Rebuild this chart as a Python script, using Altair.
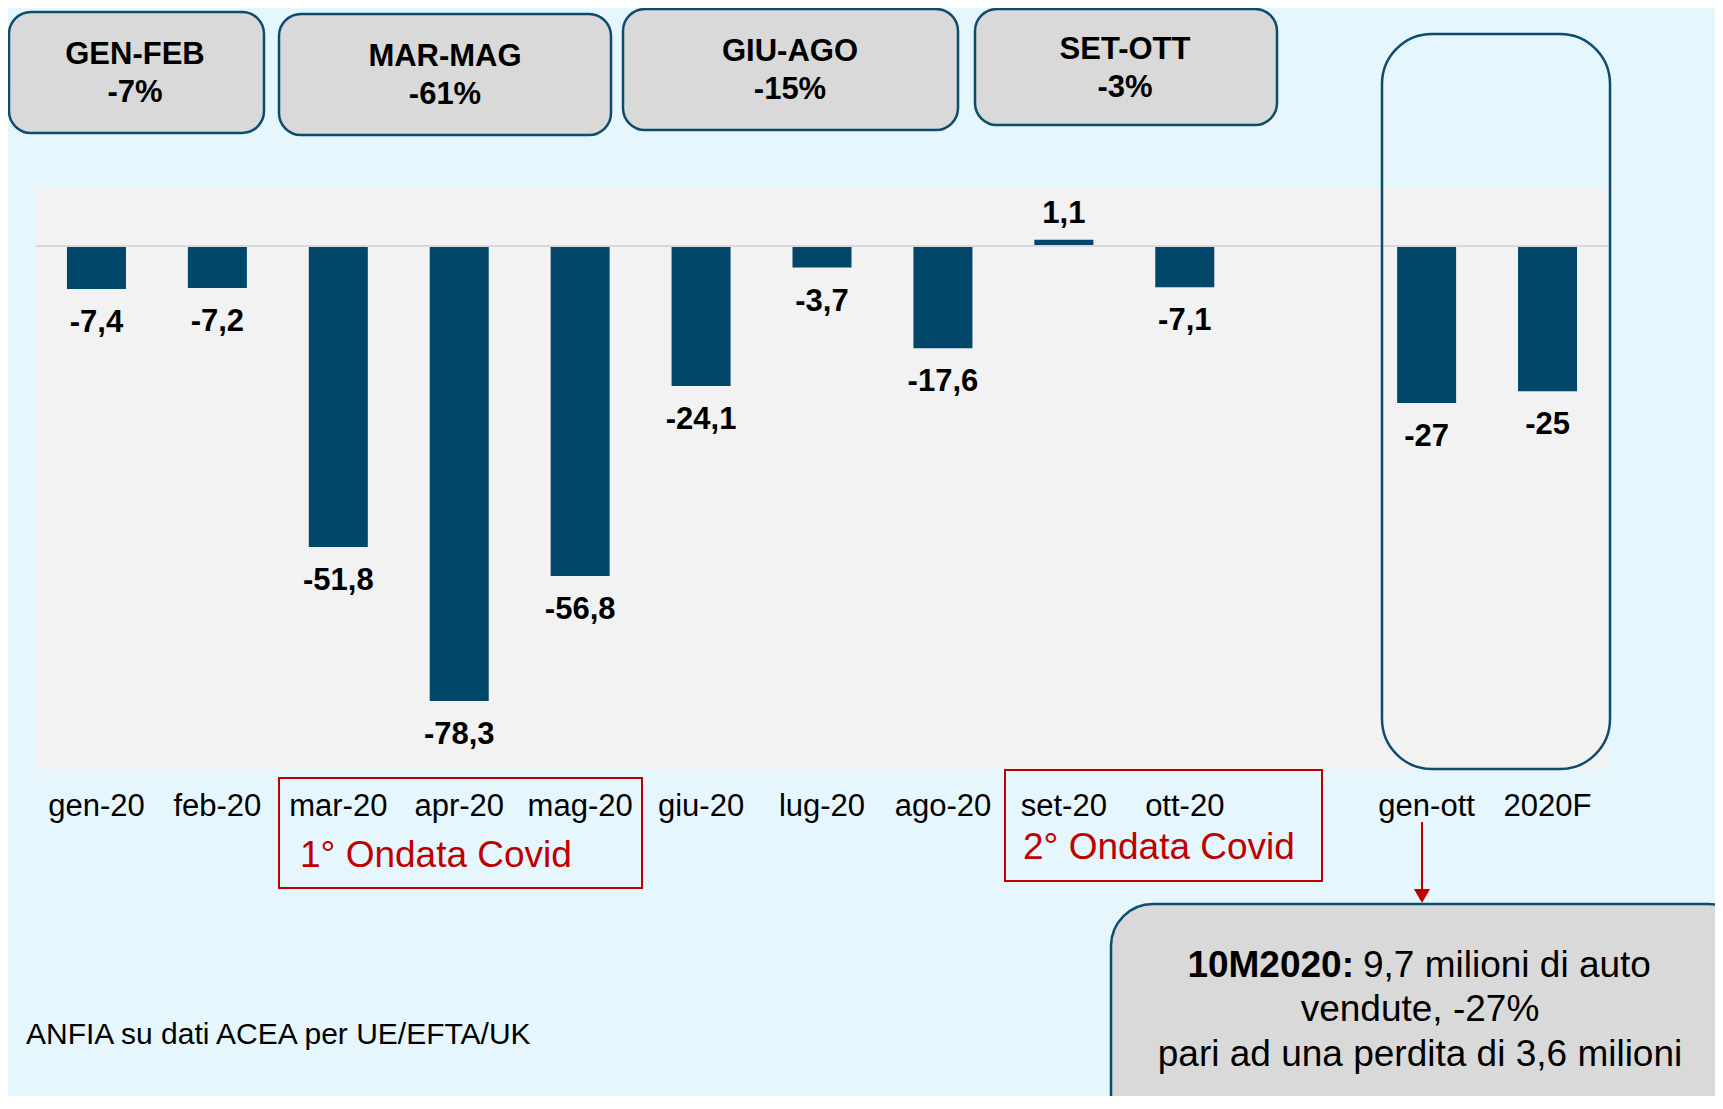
import altair as alt
import pandas as pd

# ---------------- data ----------------
months = ["gen-20", "feb-20", "mar-20", "apr-20", "mag-20", "giu-20", "lug-20",
          "ago-20", "set-20", "ott-20", "gen-ott", "2020F"]
values = [-7.4, -7.2, -51.8, -78.3, -56.8, -24.1, -3.7, -17.6, 1.1, -7.1, -27, -25]
value_labels = ["-7,4", "-7,2", "-51,8", "-78,3", "-56,8", "-24,1", "-3,7",
                "-17,6", "1,1", "-7,1", "-27", "-25"]
axis_order = months[:10] + [""] + months[10:]   # one empty slot before the totals

period_names = ["GEN-FEB", "MAR-MAG", "GIU-AGO", "SET-OTT"]
period_changes = ["-7%", "-61%", "-15%", "-3%"]
source_text = "ANFIA su dati ACEA per UE/EFTA/UK"

# ---------------- style / layout ----------------
FONT = "Liberation Sans"
BG = "#E5F6FD"
PLOT_BG = "#F2F2F2"
BAR = "#02466A"
BOX_FILL = "#D9D9D9"
BOX_STROKE = "#0E4C6E"
RED = "#C00000"

OX, OY = 36, 188          # plot origin on the page
W, H = 1572, 581          # plot area
TOTAL_W, TOTAL_H = 1707, 1088
Y_DOMAIN = [-90, 10]
N_SLOTS = len(axis_order)
STEP = W / N_SLOTS
PX_PER_UNIT = H / (Y_DOMAIN[1] - Y_DOMAIN[0])


def px2x(px):
    return (px - OX) / STEP - 0.5


def py2y(py):
    return Y_DOMAIN[1] - (py - OY) / PX_PER_UNIT


df = pd.DataFrame({
    "idx": [axis_order.index(m) for m in months],
    "mese": months,
    "variazione": values,
    "etichetta": value_labels,
    "base": [0] * len(months),
    "label_y": [py2y(807)] * len(months),
})

xs = alt.Scale(domain=[-0.5, N_SLOTS - 0.5], nice=False, zero=False, padding=0)
ys = alt.Scale(domain=Y_DOMAIN, nice=False, zero=False, padding=0)
X = lambda f: alt.X(f, scale=xs, axis=None)
Y = lambda f: alt.Y(f, scale=ys, axis=None)

bars = alt.Chart(df).mark_bar(color=BAR, size=59, orient="vertical").encode(
    x=X("idx:Q"), y=Y("variazione:Q"), y2="base:Q",
)

# category labels (x axis)
cat_labels = alt.Chart(df).mark_text(
    font=FONT, fontSize=31, color="black", baseline="middle"
).encode(x=X("idx:Q"), y=Y("label_y:Q"), text="mese:N")

zero_df = pd.DataFrame({"x0": [-0.5], "x1": [N_SLOTS - 0.5], "y0": [0]})
zero_rule = alt.Chart(zero_df).mark_rule(color="#D9D9D9", strokeWidth=2).encode(
    x=X("x0:Q"), x2="x1:Q", y=Y("y0:Q")
)

neg_labels = alt.Chart(df).transform_filter("datum.variazione < 0").mark_text(
    dy=34, font=FONT, fontSize=31, fontWeight="bold", color="black", baseline="middle"
).encode(x=X("idx:Q"), y=Y("variazione:Q"), text="etichetta:N")

pos_labels = alt.Chart(df).transform_filter("datum.variazione >= 0").mark_text(
    dy=-26, font=FONT, fontSize=31, fontWeight="bold", color="black", baseline="middle"
).encode(x=X("idx:Q"), y=Y("variazione:Q"), text="etichetta:N")


def rect_layer(boxes, **kw):
    d = pd.DataFrame({
        "a": [px2x(b[0]) for b in boxes], "b": [px2x(b[2]) for b in boxes],
        "c": [py2y(b[1]) for b in boxes], "d": [py2y(b[3]) for b in boxes],
    })
    return alt.Chart(d).mark_rect(**kw).encode(x=X("a:Q"), x2="b:Q", y=Y("c:Q"), y2="d:Q")


def text_layer(items, size, weight="normal", color="black", align="center"):
    d = pd.DataFrame({
        "t": [i[0] for i in items],
        "px": [px2x(i[1]) for i in items],
        "py": [py2y(i[2]) for i in items],
    })
    return alt.Chart(d).mark_text(
        font=FONT, fontSize=size, fontWeight=weight, color=color, align=align,
        baseline="middle",
    ).encode(x=X("px:Q"), y=Y("py:Q"), text="t:N")


# page-pixel layout of the decorations
top_boxes = [(9, 12, 264, 133), (279, 14, 611, 135), (623, 9, 958, 130), (975, 9, 1277, 125)]
top_text_pos = [(135, 55, 93), (445, 57, 95), (790, 52, 90), (1125, 50, 88)]
top_items = []
for (tx, ty1, ty2), name, chg in zip(top_text_pos, period_names, period_changes):
    top_items.append((name, tx, ty1))
    top_items.append((chg, tx, ty2))

layers = [bars, zero_rule, neg_labels, pos_labels, cat_labels]
layers.append(rect_layer(top_boxes, fill=BOX_FILL, stroke=BOX_STROKE, strokeWidth=2.5,
                         cornerRadius=22))
layers.append(text_layer(top_items, 31, "bold"))

# tall box around the year totals
layers.append(rect_layer([(1382, 34, 1610, 769)], fill=BOX_FILL, fillOpacity=0,
                         stroke=BOX_STROKE, strokeWidth=2.5, cornerRadius=50))

# covid waves
layers.append(rect_layer([(279, 778, 642, 888), (1005, 770, 1322, 881)], fill=BOX_FILL,
                         fillOpacity=0, stroke=RED, strokeWidth=2))
layers.append(text_layer([("1° Ondata Covid", 300, 856), ("2° Ondata Covid", 1023, 848)],
                         37, color=RED, align="left"))

# arrow
arrow_df = pd.DataFrame({"ax": [px2x(1422)], "ay0": [py2y(822)], "ay1": [py2y(890)],
                         "hy": [py2y(896)]})
layers.append(alt.Chart(arrow_df).mark_rule(color=RED, strokeWidth=2).encode(
    x=X("ax:Q"), y=Y("ay0:Q"), y2="ay1:Q"))
layers.append(alt.Chart(arrow_df).mark_point(shape="triangle-down", filled=True, size=260,
                                             color=RED, opacity=1).encode(
    x=X("ax:Q"), y=Y("hy:Q")))

# bottom summary box
layers.append(rect_layer([(1111, 904, 1750, 1150)], fill=BOX_FILL, stroke=BOX_STROKE,
                         strokeWidth=2.5, cornerRadius=42))
layers.append(text_layer([("10M2020:", 1354, 966)], 37, "bold", align="right"))
layers.append(text_layer([("9,7 milioni di auto", 1363, 966)], 37, align="left"))
layers.append(text_layer([("vendute, -27%", 1420, 1010),
                          ("pari ad una perdita di 3,6 milioni", 1420, 1055)], 37))

# source
layers.append(text_layer([(source_text, 26, 1035)], 30, align="left"))

chart = alt.layer(*layers).properties(
    width=W, height=H, background=BG,
    padding={"left": OX - 8, "top": OY - 8, "right": TOTAL_W - (OX - 8) - W,
             "bottom": TOTAL_H - (OY - 8) - H},
    autosize=alt.AutoSizeParams(type="none"),
).configure_view(fill=PLOT_BG, strokeWidth=0)

chart.save("out.html", embed_options={"renderer": "svg", "actions": False})
